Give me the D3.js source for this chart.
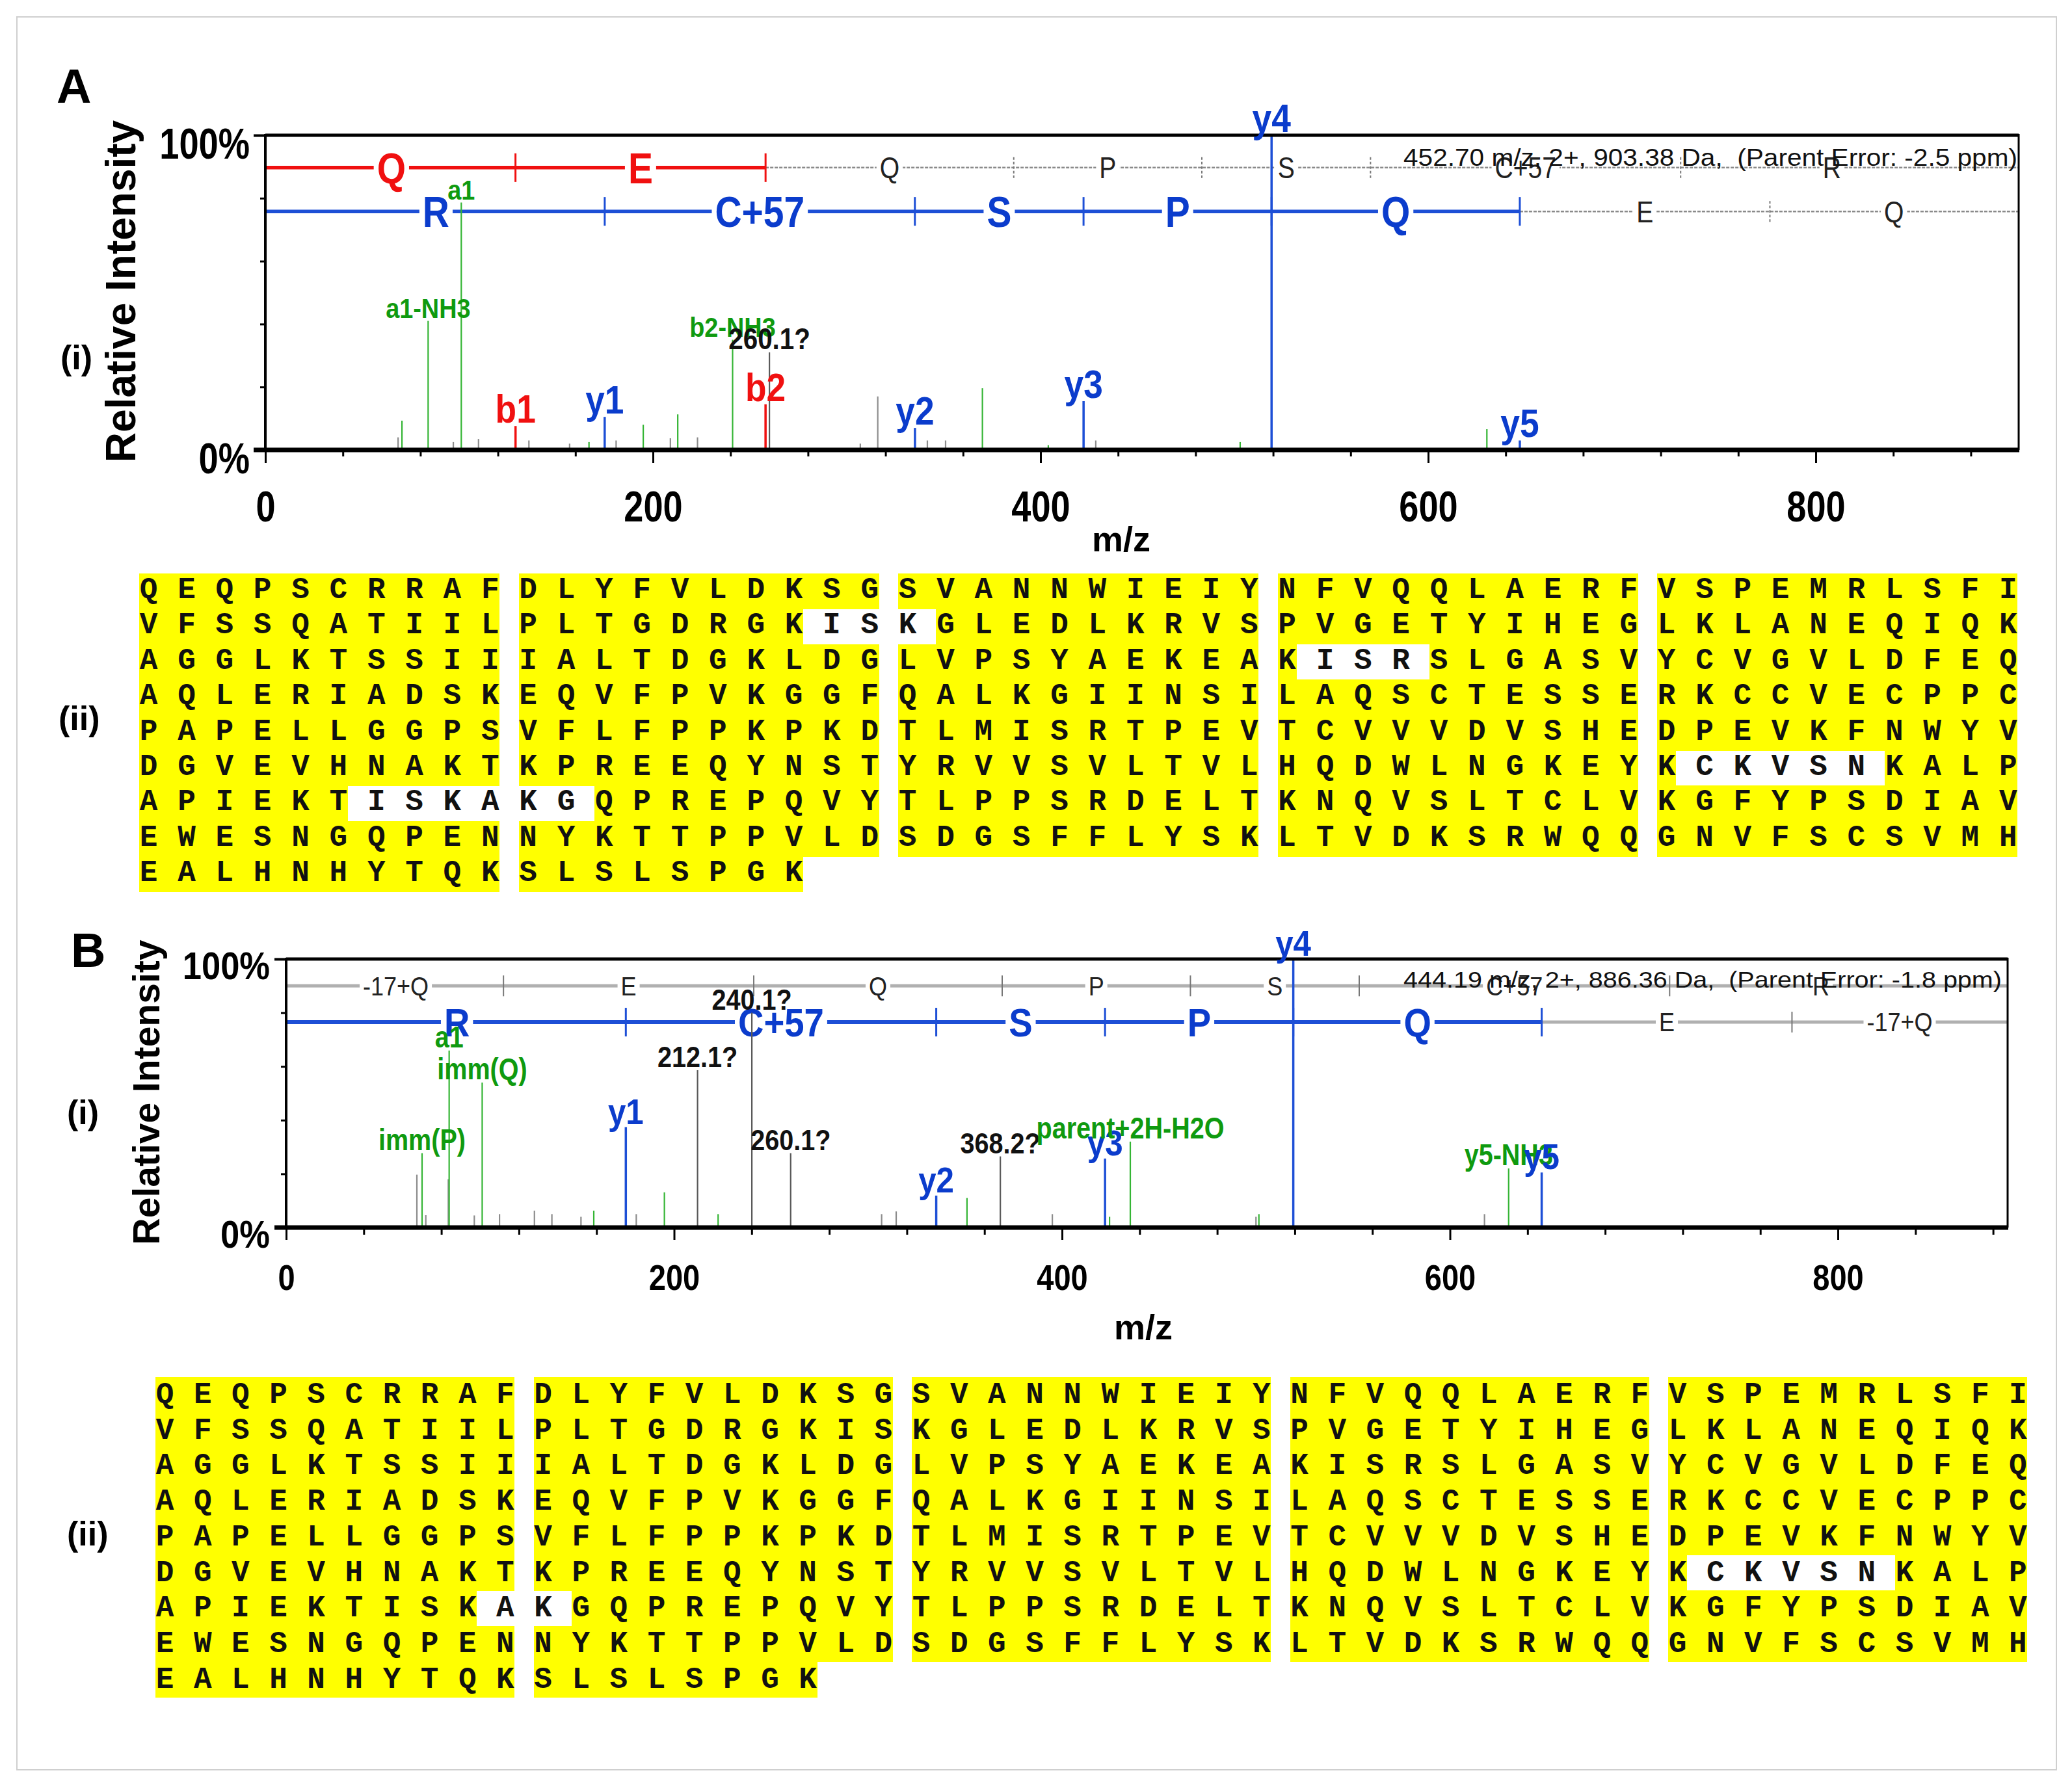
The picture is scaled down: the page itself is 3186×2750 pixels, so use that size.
<!DOCTYPE html>
<html><head><meta charset="utf-8">
<script src="https://cdn.jsdelivr.net/npm/d3@7"></script>
<style>body{margin:0;background:#fff}svg{display:block}</style>
</head><body>
<svg id="fig" width="3186" height="2750"></svg>
<script>
// ---------------- DATA ----------------
const mzMajorTicks = [0, 200, 400, 600, 800];
const yTickLabels = {0: "0%", 1: "100%"};

// [m/z, relative intensity, ion type, label]
const peaksA = [
  [68.5,0.04,'n',''],[70.5,0.093,'g',''],[84.0,0.41,'g','a1-NH3'],[97.0,0.025,'n',''],
  [101.1,0.786,'g','a1'],[110.0,0.035,'n',''],[129.1,0.076,'b','b1'],[136.0,0.03,'n',''],
  [157.0,0.02,'n',''],[167.0,0.025,'g',''],[175.1,0.105,'y','y1'],[181.0,0.03,'n',''],
  [195.0,0.08,'g',''],[209.0,0.037,'n',''],[212.8,0.113,'g',''],[223.0,0.04,'n',''],
  [241.1,0.35,'g','b2-NH3'],[260.1,0.31,'u','260.1?'],[258.1,0.145,'b','b2'],[307.0,0.02,'n',''],
  [316.0,0.17,'n',''],[335.2,0.07,'y','y2'],[341.6,0.03,'n',''],[351.0,0.03,'n',''],
  [370.0,0.196,'g',''],[404.0,0.015,'g',''],[422.2,0.155,'y','y3'],[428.5,0.03,'n',''],
  [503.0,0.025,'g',''],[519.2,1.0,'y','y4'],[630.3,0.066,'g',''],[647.3,0.03,'y','y5']
];
const peaksB = [
  [67.4,0.197,'n',''],[70.07,0.277,'g','imm(P)'],[72.0,0.046,'n',''],[83.6,0.18,'n',''],
  [84.04,0.659,'g','a1'],[97.0,0.045,'n',''],[101.07,0.54,'g','imm(Q)'],[110.0,0.05,'n',''],
  [128.0,0.063,'n',''],[137.0,0.05,'n',''],[152.0,0.04,'n',''],[158.6,0.063,'g',''],
  [175.12,0.374,'y','y1'],[180.5,0.05,'n',''],[195.0,0.131,'g',''],[212.1,0.586,'u','212.1?'],
  [222.7,0.05,'g',''],[240.1,0.80,'u','240.1?'],[260.1,0.277,'u','260.1?'],[307.0,0.05,'n',''],
  [314.5,0.06,'n',''],[335.15,0.119,'y','y2'],[351.0,0.11,'g',''],[368.2,0.265,'u','368.2?'],
  [395.0,0.05,'n',''],[422.18,0.257,'y','y3'],[424.5,0.04,'g',''],[435.2,0.32,'g','parent+2H-H2O'],
  [500.0,0.04,'n',''],[501.5,0.05,'g',''],[519.23,1.0,'y','y4'],[617.8,0.05,'n',''],
  [630.26,0.22,'g','y5-NH3'],[647.29,0.205,'y','y5']
];

// fragment ladders: boundaries (m/z), residue letters, number of matched residues
const ladderA_b = {bounds:[1.0,129.07,258.11,386.17,483.22,570.25,730.28,886.38], letters:['Q','E','Q','P','S','C+57','R'], matched:2, ion:'b', level:0.897};
const ladderA_y = {bounds:[1.0,175.12,335.15,422.18,519.23,647.29,776.33,904.39], letters:['R','C+57','S','P','Q','E','Q'], matched:5, ion:'y', level:0.758};
const ladderB_b = {bounds:[1.0,112.04,241.08,369.14,466.19,553.22,713.25,869.35], letters:['-17+Q','E','Q','P','S','C+57','R'], matched:0, ion:'b', level:0.90};
const ladderB_y = {bounds:[1.0,175.12,335.15,422.18,519.23,647.29,776.33,887.36], letters:['R','C+57','S','P','Q','E','-17+Q'], matched:5, ion:'y', level:0.765};

const headerA = "452.70 m/z, 2+, 903.38 Da,  (Parent Error: -2.5 ppm)";
const headerB = "444.19 m/z, 2+, 886.36 Da,  (Parent Error: -1.8 ppm)";

const sequenceRows = [
  "QEQPSCRRAFDLYFVLDKSGSVANNWIEIYNFVQQLAERFVSPEMRLSFI",
  "VFSSQATIILPLTGDRGKISKGLEDLKRVSPVGETYIHEGLKLANEQIQK",
  "AGGLKTSSIIIALTDGKLDGLVPSYAEKEAKISRSLGASVYCVGVLDFEQ",
  "AQLERIADSKEQVFPVKGGFQALKGIINSILAQSCTESSERKCCVECPPC",
  "PAPELLGGPSVFLFPPKPKDTLMISRTPEVTCVVVDVSHEDPEVKFNWYV",
  "DGVEVHNAKTKPREEQYNSTYRVVSVLTVLHQDWLNGKEYKCKVSNKALP",
  "APIEKTISKAKGQPREPQVYTLPPSRDELTKNQVSLTCLVKGFYPSDIAV",
  "EWESNGQPENNYKTTPPVLDSDGSFFLYSKLTVDKSRWQQGNVFSCSVMH",
  "EALHNHYTQKSLSLSPGK"
];
// uncovered residues: [row, first index, last index]
const uncoveredA = [[1,18,20],[2,31,33],[5,41,45],[6,6,11]];
const uncoveredB = [[5,41,45],[6,9,10]];

// ---------------- DRAWING ----------------
const SANS = "'Liberation Sans', Arial, Helvetica, sans-serif";
const MONO = "'Liberation Mono', 'Courier New', monospace";
const svg = d3.select('#fig');
svg.append('rect').attr('x',0).attr('y',0).attr('width',3186).attr('height',2750).attr('fill','#fff');
svg.append('rect').attr('x',26).attr('y',26).attr('width',3136).attr('height',2696)
  .attr('fill','none').attr('stroke','#cfcfcf').attr('stroke-width',2);

function ctext(g, x, y, str, o) {
  return g.append('text')
    .attr('transform', `translate(${x},${y}) scale(${o.sx||1},1)`)
    .attr('text-anchor', o.anchor||'middle')
    .attr('font-family', o.family||SANS)
    .attr('font-size', o.size)
    .attr('font-weight', o.weight||'bold')
    .attr('fill', o.fill||'#000')
    .text(str);
}

const LINE_COLOR = {b:'#f01010', y:'#1d4fd6', g:'#35b535', u:'#5a5a5a', n:'#8c8c8c'};
const LABEL_COLOR = {b:'#f01010', y:'#0b3ccc', g:'#0f9a0f', u:'#111111'};

function drawLadder(g, x, y, lad, cfg) {
  const ly = y(lad.level);
  const col = LINE_COLOR[lad.ion];
  const xs = lad.bounds.map(x);
  const mEnd = lad.matched > 0 ? xs[lad.matched] : cfg.left;
  // gray part
  g.append('line').attr('x1', mEnd).attr('x2', cfg.right).attr('y1', ly).attr('y2', ly)
    .attr('stroke', cfg.grayLine).attr('stroke-width', cfg.grayW)
    .attr('stroke-dasharray', cfg.grayDash);
  if (lad.matched > 0) {
    g.append('line').attr('x1', cfg.left).attr('x2', mEnd).attr('y1', ly).attr('y2', ly)
      .attr('stroke', col).attr('stroke-width', cfg.colW);
  }
  // ticks
  lad.bounds.slice(1, -1).forEach((b, i) => {
    const idx = i + 1, colored = idx <= lad.matched;
    const h = colored ? 22 : 16;
    g.append('line').attr('x1', x(b)).attr('x2', x(b)).attr('y1', ly - h).attr('y2', ly + h)
      .attr('stroke', colored ? col : '#777').attr('stroke-width', colored ? 3 : 2)
      .attr('stroke-dasharray', colored ? null : cfg.grayTickDash);
  });
  // residue letters
  lad.letters.forEach((L, i) => {
    const colored = i < lad.matched;
    const cx = (xs[i] + xs[i+1]) / 2;
    const st = colored ? cfg.colLetter : cfg.grayLetter;
    const lg = g.append('g');
    const r = lg.append('rect').attr('fill', '#fff');
    const t = ctext(lg, cx, ly + 0.36*st.size, L, {size: st.size, sx: st.sx, weight: colored ? 'bold' : 'normal',
      fill: colored ? LABEL_COLOR[lad.ion] : '#222'});
    const w = t.node().getComputedTextLength() * st.sx;
    r.attr('x', cx - w/2 - 5).attr('width', w + 10).attr('y', ly - 0.3*st.size).attr('height', 0.6*st.size);
  });
}

function drawSpectrum(cfg) {
  const g = svg.append('g');
  const x = d3.scaleLinear().domain([0, cfg.xmax]).range([cfg.left, cfg.right]);
  const y = d3.scaleLinear().domain([0, 1]).range([cfg.bottom, cfg.top]);

  cfg.ladders.forEach(l => drawLadder(g, x, y, l, cfg));

  g.append('g').selectAll('line').data(cfg.peaks).join('line')
    .attr('x1', d => x(d[0])).attr('x2', d => x(d[0]))
    .attr('y1', y(0)).attr('y2', d => y(d[1]))
    .attr('stroke', d => LINE_COLOR[d[2]])
    .attr('stroke-width', d => (d[2]==='b'||d[2]==='y') ? 3.5 : 2.2);

  // frame
  g.append('line').attr('x1', cfg.left).attr('x2', cfg.right).attr('y1', cfg.top).attr('y2', cfg.top)
    .attr('stroke', '#000').attr('stroke-width', 5);
  g.append('line').attr('x1', cfg.right).attr('x2', cfg.right).attr('y1', cfg.top - 2).attr('y2', cfg.bottom)
    .attr('stroke', '#000').attr('stroke-width', 3);
  g.append('line').attr('x1', cfg.left).attr('x2', cfg.left).attr('y1', cfg.top - 2).attr('y2', cfg.bottom)
    .attr('stroke', '#000').attr('stroke-width', 4);

  // x axis minor + major ticks
  const minor = d3.range(0, cfg.xmax, 40).filter(v => !mzMajorTicks.includes(v));
  g.append('g').attr('transform', `translate(0,${cfg.bottom})`)
    .call(d3.axisBottom(x).tickValues(minor).tickSize(cfg.minorTick).tickFormat(''))
    .call(a => { a.select('.domain').remove(); a.selectAll('line').attr('stroke-width', 3); });
  const maj = g.append('g').attr('transform', `translate(0,${cfg.bottom})`)
    .call(d3.axisBottom(x).tickValues(mzMajorTicks).tickSize(cfg.majorTick).tickFormat(d3.format('d')));
  maj.select('.domain').remove();
  maj.selectAll('line').attr('stroke-width', 3);
  maj.selectAll('text').attr('y', null).attr('dy', null)
    .attr('transform', `translate(0,${cfg.xLabDy}) scale(${cfg.xLab.sx},1)`)
    .attr('font-size', cfg.xLab.size).attr('font-weight', 'bold').attr('font-family', SANS).attr('fill', '#000');

  // y axis ticks
  g.append('g').attr('transform', `translate(${cfg.left},0)`)
    .call(d3.axisLeft(y).tickValues([0.2, 0.4, 0.6, 0.8]).tickSize(8).tickFormat(''))
    .call(a => { a.select('.domain').remove(); a.selectAll('line').attr('stroke-width', 3); });
  const ya = g.append('g').attr('transform', `translate(${cfg.left},0)`)
    .call(d3.axisLeft(y).tickValues([0, 1]).tickSize(18).tickFormat(d => yTickLabels[d]));
  ya.select('.domain').remove();
  ya.selectAll('line').attr('stroke-width', 4);
  ya.selectAll('text').attr('x', null).attr('dy', null).attr('text-anchor', 'end')
    .attr('transform', `translate(${-cfg.yLabGap},${cfg.yLabDy}) scale(${cfg.yLab.sx},1)`)
    .attr('font-size', cfg.yLab.size).attr('font-weight', 'bold').attr('font-family', SANS).attr('fill', '#000');

  // bottom axis line (thick)
  g.append('line').attr('x1', cfg.left - 18).attr('x2', cfg.right + 1).attr('y1', cfg.bottom).attr('y2', cfg.bottom)
    .attr('stroke', '#000').attr('stroke-width', 7);

  // axis titles
  ctext(g, cfg.mzX, cfg.mzY, 'm/z', {size: 54});
  g.append('text').attr('transform', `translate(${cfg.riX},${cfg.riY}) rotate(-90)`)
    .attr('text-anchor', 'middle').attr('font-family', SANS).attr('font-weight', 'bold')
    .attr('font-size', cfg.riSize).attr('fill', '#000').text('Relative Intensity');

  // peak labels
  cfg.peaks.filter(d => d[3]).forEach(d => {
    const st = cfg.labStyle[d[2]];
    ctext(g, x(d[0]), y(d[1]) - 5, d[3], {size: st.size, sx: st.sx, fill: LABEL_COLOR[d[2]]});
  });

  // header
  g.append('text').attr('x', cfg.hdrX).attr('y', cfg.hdrY)
    .attr('font-family', SANS).attr('font-size', cfg.hdrSize).attr('fill', '#111')
    .attr('textLength', cfg.hdrLen).attr('lengthAdjust', 'spacingAndGlyphs')
    .attr('xml:space', 'preserve').style('white-space', 'pre')
    .text(cfg.header);
}

function drawSequence(cfg, gaps) {
  const g = svg.append('g');
  const cell = cfg.pitch / 2;
  const gap = new Set();
  gaps.forEach(([r, a, b]) => { for (let k = a; k <= b; k++) gap.add(r + '-' + k); });
  sequenceRows.forEach((row, r) => {
    const ry = cfg.top + r * cfg.rowH;
    for (let b = 0; b * 10 < row.length; b++) {
      const end = Math.min(b * 10 + 9, row.length - 1);
      let k = b * 10;
      while (k <= end) {
        if (gap.has(r + '-' + k)) { k++; continue; }
        const s = k;
        while (k + 1 <= end && !gap.has(r + '-' + (k + 1))) k++;
        g.append('rect').attr('x', cfg.x0 + s * cfg.pitch).attr('y', ry)
          .attr('width', (k - s) * cfg.pitch + cell).attr('height', cfg.rowH + 0.6)
          .attr('fill', '#ffff00').attr('shape-rendering', 'crispEdges');
        k++;
      }
    }
  });
  sequenceRows.forEach((row, r) => {
    const ry = cfg.top + r * cfg.rowH;
    g.append('g').selectAll('text').data(row.split('')).join('text')
      .attr('x', (d, k) => cfg.x0 + k * cfg.pitch + cell / 2)
      .attr('y', ry + cfg.base)
      .attr('text-anchor', 'middle').attr('font-family', MONO).attr('font-weight', 'bold')
      .attr('font-size', cfg.size).attr('fill', '#111').text(d => d);
  });
}

// panel letters and sub-labels
const ann = svg.append('g');
ctext(ann, 87, 158, 'A', {size: 74, anchor: 'start'});
ctext(ann, 109, 1487, 'B', {size: 74, anchor: 'start'});
ctext(ann, 93, 568, '(i)', {size: 52, anchor: 'start'});
ctext(ann, 90, 1123, '(ii)', {size: 52, anchor: 'start'});
ctext(ann, 103, 1729, '(i)', {size: 52, anchor: 'start'});
ctext(ann, 103, 2377, '(ii)', {size: 52, anchor: 'start'});

drawSpectrum({
  left: 408, right: 3104, top: 208, bottom: 692, xmax: 904.7,
  peaks: peaksA, ladders: [ladderA_b, ladderA_y],
  grayLine: '#8a8a8a', grayW: 2.5, grayDash: '5,2', grayTickDash: '4,3', colW: 5.5,
  colLetter: {size: 67, sx: 0.85}, grayLetter: {size: 46, sx: 0.85},
  minorTick: 10, majorTick: 20, xLabDy: 110, xLab: {size: 66, sx: 0.82},
  yLabGap: 24, yLabDy: 35, yLab: {size: 67, sx: 0.81},
  mzX: 1724, mzY: 848, riX: 208, riY: 448, riSize: 64,
  labStyle: {b: {size: 62, sx: 0.86}, y: {size: 62, sx: 0.86}, g: {size: 43, sx: 0.88}, u: {size: 47, sx: 0.86}},
  header: headerA, hdrX: 2158, hdrY: 255, hdrSize: 37, hdrLen: 944
});

drawSpectrum({
  left: 440, right: 3087, top: 1475, bottom: 1888, xmax: 887.5,
  peaks: peaksB, ladders: [ladderB_b, ladderB_y],
  grayLine: '#b0b0b0', grayW: 5, grayDash: null, grayTickDash: null, colW: 6,
  colLetter: {size: 62, sx: 0.88}, grayLetter: {size: 40, sx: 0.9},
  minorTick: 11, majorTick: 19, xLabDy: 96, xLab: {size: 56, sx: 0.84},
  yLabGap: 25, yLabDy: 30, yLab: {size: 59, sx: 0.89},
  mzX: 1758, mzY: 2060, riX: 245, riY: 1680, riSize: 57,
  labStyle: {b: {size: 56, sx: 0.88}, y: {size: 56, sx: 0.88}, g: {size: 46, sx: 0.86}, u: {size: 44, sx: 0.9}},
  header: headerB, hdrX: 2158, hdrY: 1519, hdrSize: 35, hdrLen: 920
});

drawSequence({x0: 214, pitch: 58.35, top: 882, rowH: 54.4, base: 38, size: 46}, uncoveredA);
drawSequence({x0: 239, pitch: 58.15, top: 2118, rowH: 54.7, base: 40, size: 46}, uncoveredB);
</script>
</body></html>
